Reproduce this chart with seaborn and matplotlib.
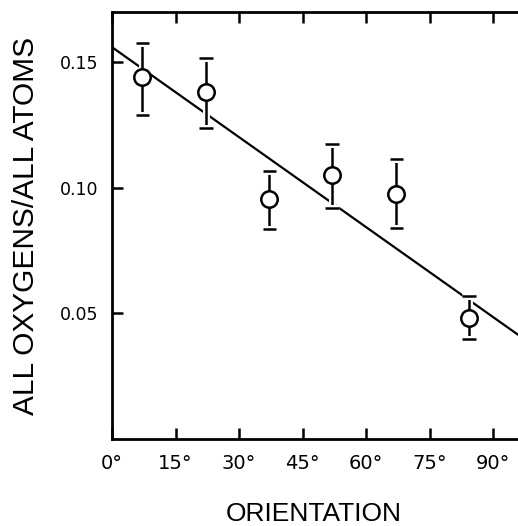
import matplotlib
matplotlib.use("Agg")
import matplotlib.pyplot as plt
import matplotlib.patheffects as pe
import seaborn as sns
import pandas as pd

# Data
orientation = [7.2, 22.1, 37.2, 52.0, 67.2, 84.3]
ratio = [0.144, 0.138, 0.0955, 0.105, 0.0975, 0.048]
err_low = [0.015, 0.014, 0.0117, 0.0132, 0.0135, 0.008]
err_high = [0.0135, 0.0135, 0.011, 0.0125, 0.014, 0.009]

fit_x = [0, 96]
fit_y = [0.156, 0.0414]

x_ticks = [0, 15, 30, 45, 60, 75, 90]
x_tick_labels = ["0°", "15°", "30°", "45°", "60°", "75°", "90°"]
y_ticks = [0.05, 0.10, 0.15]
y_tick_labels = ["0.05", "0.10", "0.15"]

sns.set_theme(style="ticks")
plt.rcParams["font.family"] = ["DejaVu Sans"]
plt.rcParams["text.color"] = "black"
plt.rcParams["xtick.color"] = "black"
plt.rcParams["ytick.color"] = "black"
plt.rcParams["xtick.labelcolor"] = "black"
plt.rcParams["ytick.labelcolor"] = "black"

fig = plt.figure(figsize=(5.18, 5.26), dpi=100)
ax = fig.add_axes([112 / 518, 1 - 439 / 526, (518 - 112) / 518, (439 - 12) / 526])

fit_df = pd.DataFrame({"x": fit_x, "y": fit_y})
sns.lineplot(data=fit_df, x="x", y="y", ax=ax, color="black", linewidth=1.6, zorder=2)

ax.errorbar(orientation, ratio, yerr=[err_low, err_high], fmt="none",
            ecolor="black", elinewidth=1.8, capsize=5, capthick=1.8, zorder=3,
            path_effects=[pe.Stroke(linewidth=5, foreground="white"), pe.Normal()])

pts = pd.DataFrame({"x": orientation, "y": ratio})
sns.scatterplot(data=pts, x="x", y="y", ax=ax, s=140, marker="o",
                facecolor="white", edgecolor="black", linewidth=1.8, zorder=4)

ax.set_xlim(0, 95.9)
ax.set_ylim(0, 0.17)
ax.set_xticks(x_ticks)
ax.set_xticklabels(x_tick_labels, fontsize=14, color="black")
ax.set_yticks(y_ticks)
ax.set_yticklabels(y_tick_labels, fontsize=12.5, color="black")
ax.tick_params(axis="both", direction="in", length=8, width=1.8, color="black")
ax.tick_params(axis="x", top=True, pad=11)
ax.tick_params(axis="y", pad=10)
for side in ["left", "bottom", "top"]:
    ax.spines[side].set_linewidth(2)
    ax.spines[side].set_color("black")
ax.spines["right"].set_visible(False)
ax.set_xlabel("")
ax.set_ylabel("")

fig.text(26 / 518, 1 - 226 / 526, "ALL OXYGENS/ALL ATOMS", rotation=90,
         ha="center", va="center", fontsize=21.5, family="Liberation Sans",
         color="black")
fig.text(314 / 518, 1 - 514 / 526, "ORIENTATION", ha="center", va="center",
         fontsize=19, family="Liberation Sans", color="black")

fig.savefig("out.png", dpi=100, facecolor="white")
